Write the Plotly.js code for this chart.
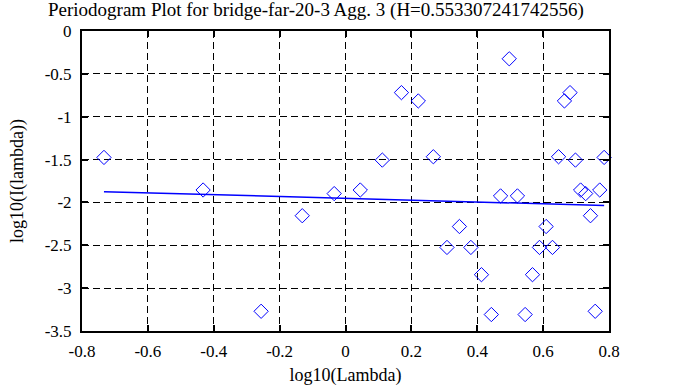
<!DOCTYPE html>
<html>
<head>
<meta charset="utf-8">
<script src="https://cdn.plot.ly/plotly-3.0.1.min.js"></script>
<style>html,body{margin:0;padding:0;background:#fff;}#chart{width:678px;height:387px;}</style>
</head>
<body>
<div id="chart"></div>
<script>
// log10(Lambda) of each periodogram point
const logLambda = [-0.7333, -0.4323, -0.2562, -0.1313, -0.0343, 0.0448, 0.1118, 0.1698, 0.2210, 0.2667,
  0.3081, 0.3459, 0.3806, 0.4128, 0.4428, 0.4708, 0.4971, 0.5220, 0.5454, 0.5677,
  0.5889, 0.6091, 0.6284, 0.6469, 0.6647, 0.6817, 0.6981, 0.7138, 0.7291, 0.7438,
  0.7581, 0.7719, 0.7852];
// log10(I(lambda)) of each point
const logI = [-1.475, -1.855, -3.270, -2.155, -1.897, -1.855, -1.506, -0.719, -0.816, -1.467,
  -2.525, -2.281, -2.525, -2.843, -3.308, -1.924, -0.324, -1.924, -3.308, -2.843,
  -2.525, -2.281, -2.525, -1.467, -0.816, -0.719, -1.506, -1.855, -1.897, -2.155,
  -3.270, -1.855, -1.475];
// fitted regression line end points
const fitX = [-0.7333, 0.7852];
const fitY = [-1.874, -2.036];

const xTicks = [-0.8, -0.6, -0.4, -0.2, 0, 0.2, 0.4, 0.6, 0.8];
const xTickText = ['-0.8', '-0.6', '-0.4', '-0.2', '0', '0.2', '0.4', '0.6', '0.8'];
const yTicks = [-3.5, -3, -2.5, -2, -1.5, -1, -0.5, 0];
const yTickText = ['-3.5', '-3', '-2.5', '-2', '-1.5', '-1', '-0.5', '0'];

const FAM = 'Liberation Serif';
function f(size) { return {family: FAM, size: size, color: '#000'}; }

const traces = [
  {x: logLambda, y: logI, type: 'scatter', mode: 'markers', cliponaxis: false,
   marker: {symbol: 'diamond-open', size: 11, color: '#0000ff', line: {width: 1, color: '#0000ff'}},
   showlegend: false},
  {x: fitX, y: fitY, type: 'scatter', mode: 'lines',
   line: {color: '#0000ff', width: 1.5}, showlegend: false}
];

function axis(extra) {
  return Object.assign({
    showline: true, linewidth: 2, linecolor: '#000', mirror: 'ticks',
    ticks: 'inside', ticklen: 6, tickwidth: 2, tickcolor: '#000',
    showgrid: true, gridcolor: '#000', gridwidth: 1, griddash: '7px,4px',
    zeroline: false, tickfont: f(17)
  }, extra);
}

const layout = {
  width: 678, height: 387,
  font: f(17),
  paper_bgcolor: '#fff', plot_bgcolor: '#fff',
  margin: {l: 82, r: 69, t: 31, b: 56},
  title: {text: 'Periodogram Plot for bridge-far-20-3 Agg. 3 (H=0.553307241742556)',
          font: f(19), x: 0.466, xanchor: 'center', y: 0.975, yanchor: 'middle'},
  xaxis: axis({
    range: [-0.8, 0.8], tickmode: 'array', tickvals: xTicks, ticktext: xTickText,
    ticklabelstandoff: 4,
    title: {text: 'log10(Lambda)', font: f(18), standoff: 8}
  }),
  yaxis: axis({
    range: [-3.5, 0], tickmode: 'array', tickvals: yTicks, ticktext: yTickText,
    ticklabelstandoff: 5,
    title: {text: 'log10(I(lambda))', font: f(18), standoff: 16}
  })
};

Plotly.newPlot('chart', traces, layout, {displayModeBar: false, staticPlot: true});
</script>
</body>
</html>
